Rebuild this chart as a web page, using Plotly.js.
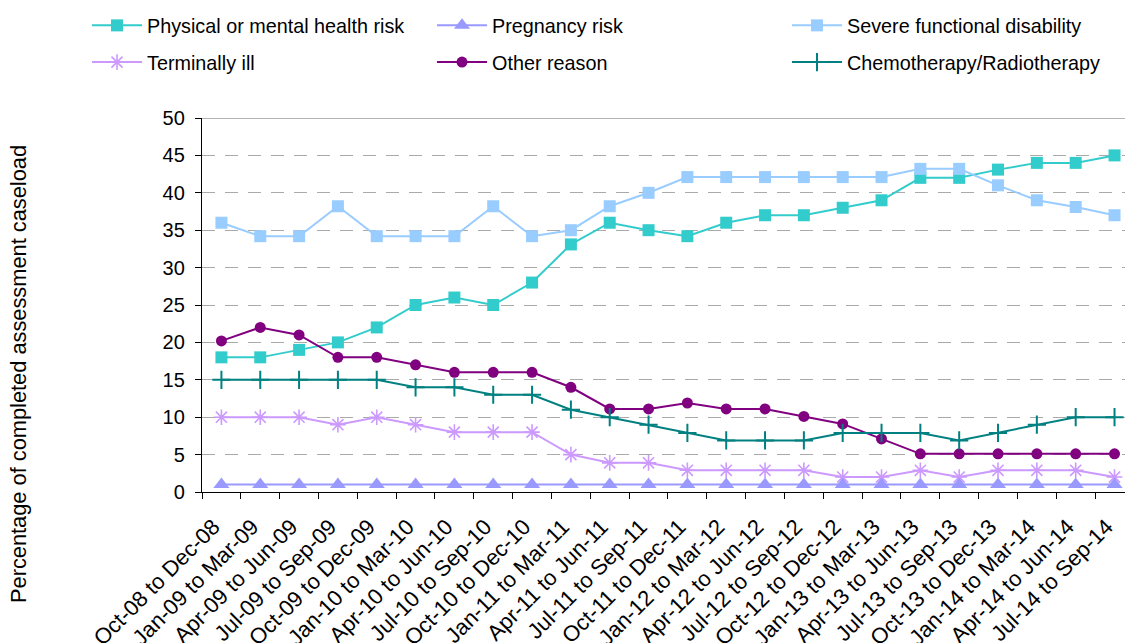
<!DOCTYPE html>
<html>
<head>
<meta charset="utf-8">
<script src="https://cdn.plot.ly/plotly-3.0.1.min.js"></script>
<style>html,body{margin:0;padding:0;background:#fff;}#chart{width:1125px;height:643px;}</style>
</head>
<body>
<div id="chart"></div>
<script>
var categories = ["Oct-08 to Dec-08","Jan-09 to Mar-09","Apr-09 to Jun-09","Jul-09 to Sep-09","Oct-09 to Dec-09","Jan-10 to Mar-10","Apr-10 to Jun-10","Jul-10 to Sep-10","Oct-10 to Dec-10","Jan-11 to Mar-11","Apr-11 to Jun-11","Jul-11 to Sep-11","Oct-11 to Dec-11","Jan-12 to Mar-12","Apr-12 to Jun-12","Jul-12 to Sep-12","Oct-12 to Dec-12","Jan-13 to Mar-13","Apr-13 to Jun-13","Jul-13 to Sep-13","Oct-13 to Dec-13","Jan-14 to Mar-14","Apr-14 to Jun-14","Jul-14 to Sep-14"];

var physicalMental = [18,18,19,20,22,25,26,25,28,33.1,36,35,34.2,36,37,37,38,39,42,42,43.1,44,44,45];
var pregnancy      = [1,1,1,1,1,1,1,1,1,1,1,1,1,1,1,1,1,1,1,1,1,1,1,1];
var severeDisab    = [36,34.2,34.2,38.2,34.2,34.2,34.2,38.2,34.2,35,38.2,40,42.1,42.1,42.1,42.1,42.1,42.1,43.2,43.2,41,39,38.1,37];
var terminallyIll  = [10,10,10,9,10,9,8,8,8,5,3.9,3.9,2.9,2.9,2.9,2.9,2,2,2.9,2,2.9,2.9,2.9,2];
var otherReason    = [20.2,22,21,18,18,17,16,16,16,14,11.1,11.1,11.9,11.1,11.1,10.1,9.1,7.1,5.1,5.1,5.1,5.1,5.1,5.1];
var chemoRadio     = [15,15,15,15,15,14,14,13,13,11,10,9,7.9,6.9,6.9,6.9,7.9,7.9,7.9,6.9,7.9,9,10,10];

var seriesNames = ["Physical or mental health risk","Pregnancy risk","Severe functional disability","Terminally ill","Other reason","Chemotherapy/Radiotherapy"];

function tr(name, y, color, symbol, size, legend, rank, lineSym) {
  return {
    type: 'scatter', mode: 'lines+markers', name: name, x: categories, y: y,
    legend: legend, legendgroup: legend + 'g' + rank, legendrank: rank,
    line: {color: color, width: 2},
    marker: {color: color, symbol: symbol, size: size, line: {color: color, width: lineSym}},
    hoverinfo: 'x+y+name'
  };
}

var data = [
  tr(seriesNames[3], terminallyIll, '#CC99FF', 'asterisk-open', 13, 'legend', 2, 1.6),
  tr(seriesNames[0], physicalMental, '#33CCCC', 'square', 12, 'legend', 1, 0),
  tr(seriesNames[1], pregnancy, '#9999FF', 'triangle-up', 14, 'legend2', 1, 0),
  tr(seriesNames[2], severeDisab, '#99CCFF', 'square', 12, 'legend3', 1, 0),
  tr(seriesNames[4], otherReason, '#800080', 'circle', 11, 'legend2', 2, 0),
  tr(seriesNames[5], chemoRadio, '#008080', 'cross-thin-open', 13, 'legend3', 2, 2)
];

var legBase = {
  xref: 'container', yref: 'container', yanchor: 'top', xanchor: 'left',
  orientation: 'v', bgcolor: 'rgba(0,0,0,0)',
  font: {family: 'Liberation Sans, Arial, sans-serif', size: 19.8, color: '#000'},
  tracegroupgap: 8, traceorder: 'grouped', itemclick: false, itemwidth: 50
};
function leg(xpx) { var o = Object.assign({}, legBase); o.x = xpx / 1125; o.y = 1 - 6 / 643; return o; }

var layout = {
  width: 1125, height: 643,
  margin: {l: 202, r: 0, t: 118, b: 151, autoexpand: false},
  paper_bgcolor: '#fff', plot_bgcolor: '#fff',
  font: {family: 'Liberation Sans, Arial, sans-serif', size: 20, color: '#000'},
  showlegend: true,
  legend: leg(87),
  legend2: leg(432),
  legend3: leg(787),
  xaxis: {
    type: 'category', range: [-0.5, 23.27],
    tickmode: 'array', tickvals: categories, ticktext: categories,
    tickangle: -45, tickfont: {size: 22},
    ticks: 'outside', ticklen: 6, tickcolor: '#000', tickson: 'boundaries',
    ticklabelstandoff: 12, ticklabelshift: -8,
    showline: true, linecolor: '#000', linewidth: 1.3,
    showgrid: false, zeroline: false, fixedrange: true, automargin: false
  },
  yaxis: {
    range: [0, 50], dtick: 5, tick0: 0,
    tickfont: {size: 20},
    ticks: 'outside', ticklen: 6, tickcolor: '#000', ticklabelstandoff: 6,
    showline: true, linecolor: '#000', linewidth: 1.3,
    showgrid: true, gridcolor: '#AAAAAA', gridwidth: 1.3, griddash: '13px,10px',
    zeroline: false, fixedrange: true, automargin: false
  },
  shapes: [{type: 'line', xref: 'paper', yref: 'y', x0: 0, x1: 1, y0: 50, y1: 50, line: {color: '#999999', width: 1.5}}],
  annotations: [{
    text: 'Percentage of completed assessment caseload', textangle: -90,
    xref: 'paper', yref: 'paper', x: (18 - 202) / 923, y: (492 - 374) / 374,
    xanchor: 'center', yanchor: 'middle', showarrow: false,
    font: {size: 21.8, color: '#000'}
  }]
};

Plotly.newPlot('chart', data, layout, {displayModeBar: false});
</script>
</body>
</html>
